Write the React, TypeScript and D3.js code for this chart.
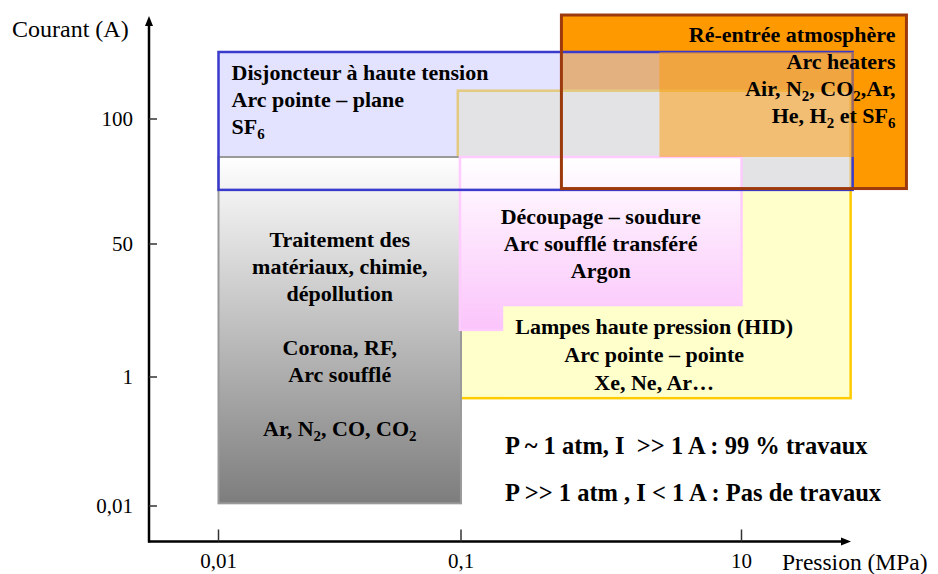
import React from "react";
import * as d3 from "d3";

// ---------- data ----------
const xTickValues = [0.01, 0.1, 10];
const xTickLabels = ["0,01", "0,1", "10"];
const yTickValues = [0.01, 1, 50, 100];
const yTickLabels = ["0,01", "1", "50", "100"];

// domains (pressure MPa, current A)
const reentreeP = [0.52, 150];
const reentreeI = [68, 178];
const hidP = [0.097, 60];
const hidI = [0.47, 117];
const disjP = [0.01, 62];
const disjI = [67.5, 145];
const traitP = [0.01, 0.1];
const traitI = [0.011, 81];
const decoupP = [0.099, 10];
const decoupI = [4, 81];
const hidLabelP = [0.2, 55];
const hidLabelI = [0.5, 8];
const reentreeLabelP = [2.6, 142];
const reentreeLabelI = [81, 145];

const disjLines = ["Disjoncteur à haute tension", "Arc pointe – plane", "SF_6"];
const reentreeLines = ["Ré-entrée atmosphère", "Arc heaters", "Air, N_2, CO_2,Ar,", "He, H_2 et SF_6"];
const traitLines = ["Traitement des", "matériaux, chimie,", "dépollution", "", "Corona, RF,", "Arc soufflé", "", "Ar, N_2, CO, CO_2"];
const decoupLines = ["Découpage – soudure", "Arc soufflé transféré", "Argon"];
const hidLines = ["Lampes haute pression (HID)", "Arc pointe – pointe", "Xe, Ne, Ar…"];
const noteLines = ["P ~ 1 atm, I  >> 1 A : 99 % travaux", "P >> 1 atm , I < 1 A : Pas de travaux"];

// ---------- layout ----------
const W = 938;
const H = 574;
const axisX = 149;
const axisY = 541.5;
const xEnd = 851;
const yTop = 16;
const font = "'Liberation Serif', 'Times New Roman', serif";
const labelSize = 22;

const xs = d3.scaleLog().domain([0.01, 0.1, 10]).range([218.5, 461, 741.5]);
const ys = d3.scaleLog().domain([0.01, 1, 50, 100]).range([506, 377, 244, 119]);

function rect(p: number[], i: number[]) {
  const x0 = xs(p[0]);
  const x1 = xs(p[1]);
  const y0 = ys(i[1]);
  const y1 = ys(i[0]);
  return { x: x0, y: y0, width: x1 - x0, height: y1 - y0 };
}

function Rich({ text, x, y, anchor, size = labelSize }: { text: string; x: number; y: number; anchor: string; size?: number }) {
  const parts: { t: string; sub: boolean }[] = [];
  const re = /_(\d)/g;
  let last = 0;
  let m;
  while ((m = re.exec(text)) !== null) {
    if (m.index > last) parts.push({ t: text.slice(last, m.index), sub: false });
    parts.push({ t: m[1], sub: true });
    last = m.index + m[0].length;
  }
  if (last < text.length) parts.push({ t: text.slice(last), sub: false });
  let shifted = false;
  return (
    <text
      x={x}
      y={y}
      textAnchor={anchor}
      fontFamily={font}
      fontWeight="bold"
      fontSize={size}
      fill="#000"
      style={{ whiteSpace: "pre" }}
    >
      {parts.map((p, k) => {
        let dy = 0;
        if (p.sub && !shifted) {
          dy = 5;
          shifted = true;
        } else if (!p.sub && shifted) {
          dy = -5;
          shifted = false;
        }
        return (
          <tspan key={k} dy={dy} fontSize={p.sub ? size * 0.68 : size}>
            {p.t}
          </tspan>
        );
      })}
    </text>
  );
}

export default function App() {
  const rRe = rect(reentreeP, reentreeI);
  const rHid = rect(hidP, hidI);
  const rDis = rect(disjP, disjI);
  const rTr = rect(traitP, traitI);
  const rDec = rect(decoupP, decoupI);
  const rHidL = rect(hidLabelP, hidLabelI);
  const rReL = rect(reentreeLabelP, reentreeLabelI);

  const lh = 27;

  return (
    <svg width={W} height={H} style={{ position: "absolute", left: 0, top: 0, background: "#fff" }}>
      <defs>
        <linearGradient id="grayGrad" x1="0" y1="0" x2="0" y2="1">
          <stop offset="0" stopColor="#ffffff" />
          <stop offset="1" stopColor="#7d7d7d" />
        </linearGradient>
        <linearGradient id="pinkGrad" x1="0" y1="0" x2="0" y2="1">
          <stop offset="0" stopColor="#ffffff" />
          <stop offset="1" stopColor="#fbc4fb" />
        </linearGradient>
      </defs>
      <rect x={0} y={0} width={W} height={H} fill="#fff" />

      {/* orange fill */}
      <rect {...rRe} fill="#ff9900" />
      {/* yellow HID box */}
      <rect {...rHid} fill="#ffffcc" stroke="#ffcc00" strokeWidth={2.5} />
      {/* blue fill (semi transparent) */}
      <rect {...rDis} fill="rgba(200,200,255,0.5)" />
      {/* gray gradient box */}
      <rect {...rTr} fill="url(#grayGrad)" stroke="#9a9a9a" strokeWidth={2} />
      {/* pink gradient box */}
      <rect {...rDec} fill="url(#pinkGrad)" stroke="#ffccff" strokeWidth={2.5} />
      {/* HID label patch */}
      <rect {...rHidL} fill="#ffffcc" />
      {/* blue stroke */}
      <rect {...rDis} fill="none" stroke="#3a3acc" strokeWidth={2.5} />
      {/* re-entree label overlay */}
      <rect {...rReL} fill="rgba(255,153,0,0.5)" />
      {/* brown stroke */}
      <rect {...rRe} fill="none" stroke="#9c3a0e" strokeWidth={3} />

      {/* axes */}
      <line x1={axisX} y1={axisY + 1} x2={axisX} y2={yTop + 8} stroke="#000" strokeWidth={2.5} />
      <polygon points={`${axisX},${yTop} ${axisX - 4},${yTop + 10} ${axisX + 4},${yTop + 10}`} fill="#000" />
      <line x1={axisX - 1} y1={axisY} x2={xEnd - 8} y2={axisY} stroke="#000" strokeWidth={2.5} />
      <polygon points={`${xEnd},${axisY} ${xEnd - 10},${axisY - 4} ${xEnd - 10},${axisY + 4}`} fill="#000" />

      {yTickValues.map((v, i) => (
        <g key={"yt" + i}>
          <line x1={axisX} x2={axisX + 8} y1={ys(v)} y2={ys(v)} stroke="#333" strokeWidth={1.5} />
          <text x={133} y={ys(v) + 7} textAnchor="end" fontFamily={font} fontSize={21} fill="#000">
            {yTickLabels[i]}
          </text>
        </g>
      ))}
      {xTickValues.map((v, i) => (
        <g key={"xt" + i}>
          <line x1={xs(v)} x2={xs(v)} y1={axisY - 12} y2={axisY} stroke="#333" strokeWidth={1.5} />
          <text x={xs(v)} y={568} textAnchor="middle" fontFamily={font} fontSize={21} fill="#000">
            {xTickLabels[i]}
          </text>
        </g>
      ))}
      <text x={12} y={37} fontFamily={font} fontSize={24} fill="#000">
        Courant (A)
      </text>
      <text x={782} y={570} fontFamily={font} fontSize={23.5} fill="#000">
        Pression (MPa)
      </text>

      {/* labels */}
      {disjLines.map((t, i) => (
        <Rich key={"d" + i} text={t} x={rDis.x + 13} y={rDis.y + 28 + i * lh} anchor="start" />
      ))}
      {reentreeLines.map((t, i) => (
        <Rich key={"r" + i} text={t} x={rRe.x + rRe.width - 11} y={rRe.y + 27 + i * lh} anchor="end" />
      ))}
      {traitLines.map((t, i) =>
        t ? <Rich key={"t" + i} text={t} x={rTr.x + rTr.width / 2} y={rTr.y + 90 + i * lh} anchor="middle" /> : null
      )}
      {decoupLines.map((t, i) => (
        <Rich key={"c" + i} text={t} x={rDec.x + rDec.width / 2} y={rDec.y + 67 + i * lh} anchor="middle" />
      ))}
      {hidLines.map((t, i) => (
        <Rich key={"h" + i} text={t} x={rHid.x + rHid.width / 2} y={rHidL.y + 28 + i * 28} anchor="middle" />
      ))}
      {noteLines.map((t, i) => (
        <Rich key={"n" + i} text={t} x={505} y={454 + i * 47} anchor="start" size={24.5} />
      ))}
    </svg>
  );
}
